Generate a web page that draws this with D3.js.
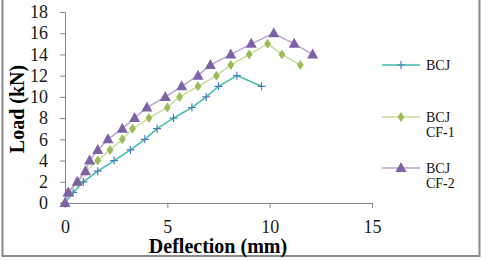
<!DOCTYPE html>
<html><head><meta charset="utf-8">
<script src="https://cdn.jsdelivr.net/npm/d3@7"></script>
<style>body{margin:0;background:#fff}svg{display:block}</style>
</head><body><svg id="c" width="490" height="260"></svg>
<script>
const seriesNames = ["BCJ", "BCJ CF-1", "BCJ CF-2"];
const bcjDefl = [0,0.4,0.9,1.6,2.4,3.2,3.9,4.5,5.3,6.2,6.9,7.5,8.4,9.6];
const bcjLoad = [0,1,2,3,4,5,6,7,8,9,10,11,12,11];
const cf1Defl = [0,0.2,0.6,1.0,1.6,2.2,2.8,3.3,4.1,5.0,5.6,6.5,7.4,8.1,9.0,9.9,10.6,11.5];
const cf1Load = [0,1,2,3,4,5,6,7,8,9,10,11,12,13,14,15,14,13];
const cf2Defl = [0,0.15,0.6,1.0,1.2,1.6,2.1,2.8,3.4,4.0,4.9,5.7,6.5,7.1,8.1,9.1,10.2,11.2,12.1];
const cf2Load = [0,1,2,3,4,5,6,7,8,9,10,11,12,13,14,15,16,15,14];
const xTicks = [0,5,10,15];
const yTicks = [0,2,4,6,8,10,12,14,16,18];

const svg = d3.select("#c");
const font = "'Liberation Serif','Times New Roman',serif";
svg.append("rect").attr("x",2.5).attr("y",-2).attr("width",477).attr("height",258)
  .attr("fill","#fff").attr("stroke","#8a8a8a").attr("stroke-width",2);

const x = d3.scaleLinear().domain([0,15]).range([65,372]);
const y = d3.scaleLinear().domain([0,18]).range([203,12]);
const axCol = "#868686";

const gx = svg.append("g").attr("transform","translate(0,203)")
  .call(d3.axisBottom(x).tickValues(xTicks).tickSize(5).tickPadding(12));
const gy = svg.append("g").attr("transform","translate(65,0)")
  .call(d3.axisLeft(y).tickValues(yTicks).tickSize(5).tickPadding(12));
[gx,gy].forEach(g=>{
  g.selectAll("path,line").attr("stroke",axCol);
  g.selectAll("text").attr("font-family",font).attr("font-size",18).attr("fill","#1a1a1a");
});

const mk = (d,l)=>d.map((v,i)=>({x:v,y:l[i]}));
const series = [
  {data:mk(bcjDefl,bcjLoad), line:"#3fbfa8", mcol:"#4a7ebb", type:"cross"},
  {data:mk(cf1Defl,cf1Load), line:"#c9db9c", mcol:"#9bbb59", type:"diamond"},
  {data:mk(cf2Defl,cf2Load), line:"#b7a6cf", mcol:"#7f62a6", type:"tri"}
];
const line = d3.line().x(d=>x(d.x)).y(d=>y(d.y));
function marker(g,type,col,cx,cy){
  if(type==="cross"){
    g.append("path").attr("d",`M${cx-4},${cy}H${cx+4}M${cx},${cy-4}V${cy+4}`)
     .attr("stroke",col).attr("stroke-width",1.2);
  } else if(type==="diamond"){
    g.append("path").attr("d",d3.symbol(d3.symbolDiamond,40)()).attr("transform",`translate(${cx},${cy}) scale(1,0.85)`).attr("fill",col);
  } else {
    g.append("path").attr("d",`M${cx},${cy-6}L${cx+5.5},${cy+4}L${cx-5.5},${cy+4}Z`).attr("fill",col);
  }
}
series.forEach(s=>{
  svg.append("path").datum(s.data).attr("d",line).attr("fill","none").attr("stroke",s.line).attr("stroke-width",1.5);
  const g = svg.append("g");
  s.data.forEach(d=>marker(g,s.type,s.mcol,x(d.x),y(d.y)));
});

// legend
const legY = [65,117,168];
series.forEach((s,i)=>{
  const g = svg.append("g");
  g.append("line").attr("x1",382).attr("x2",420).attr("y1",legY[i]).attr("y2",legY[i]).attr("stroke",s.line).attr("stroke-width",1.5);
  marker(g,s.type,s.mcol,401,legY[i]);
  const parts = seriesNames[i].split(" ");
  parts.forEach((p,j)=>{
    g.append("text").attr("x",426).attr("y",legY[i]+5+j*15).text(p)
     .attr("font-family",font).attr("font-size",14).attr("fill","#111");
  });
});

svg.append("text").attr("x",218).attr("y",253).attr("text-anchor","middle")
  .attr("font-family",font).attr("font-size",20).attr("font-weight","bold").text("Deflection (mm)");
svg.append("text").attr("transform","translate(24,109) rotate(-90)").attr("text-anchor","middle")
  .attr("font-family",font).attr("font-size",20).attr("font-weight","bold").text("Load (kN)");
</script></body></html>
